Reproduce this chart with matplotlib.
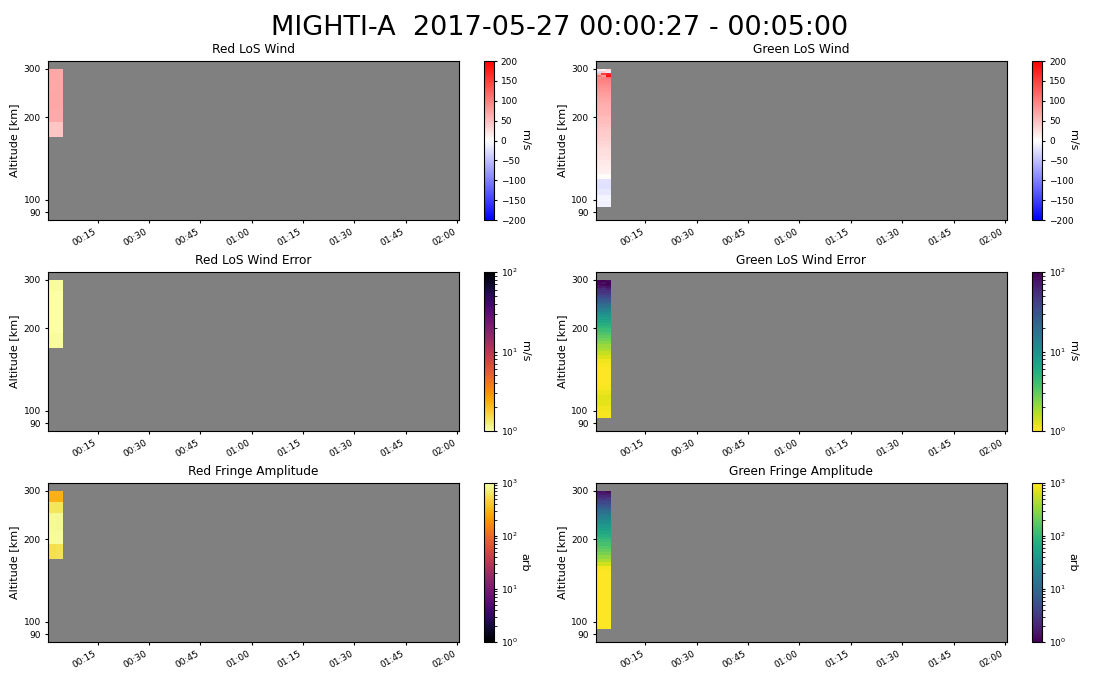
import numpy as np
import matplotlib
matplotlib.use('Agg')
import matplotlib.pyplot as plt
import matplotlib.dates as mdates
from matplotlib.colors import LogNorm
from datetime import datetime, timedelta

# time grid (cell edges) for each channel
t_start = datetime(2017, 5, 27, 0, 0, 27)
t_stop = datetime(2017, 5, 27, 0, 5, 0)
red_time_edges = [t_start, datetime(2017, 5, 27, 0, 2, 44), t_stop]
green_time_edges = [t_start, datetime(2017, 5, 27, 0, 1, 58),
                    datetime(2017, 5, 27, 0, 3, 29), t_stop]

# altitude grid (cell edges) [km]
red_alt_edges = [170, 192, 215, 248, 272, 300]
green_alt_edges = [94.5, 99.5, 104.5, 109.5, 114.5, 119.5, 124.5, 129.5, 134.5, 139.5,
                   144.5, 149.5, 154.5, 159.5, 164.5, 169.5, 174.5, 179.5, 184.5, 189.5,
                   194.5, 199.5, 204.5, 209.5, 214.5, 219.5, 224.5, 229.5, 234.5, 239.5,
                   244.5, 249.5, 254.5, 259.5, 264.5, 269.5, 274.5, 279.5, 284.5, 289.5,
                   294.5, 299.5]

# red channel, one list per time column (bottom -> top)
red_wind = [[45, 66, 70, 68, 70],
            [46, 67, 69, 70, 68]]
red_wind_err = [[1.05, 1.0, 1.0, 1.0, 1.05],
                [1.05, 1.0, 1.0, 1.0, 1.05]]
red_amp = [[560, 900, 880, 600, 300],
           [580, 910, 860, 610, 290]]

# green channel profiles (bottom -> top)
green_wind_profile = [-12, -8, -18, -25, -22, 2, 12, 15, 18, 22, 25, 26, 30, 33, 37,
                      40, 42, 45, 48, 50, 53, 56, 58, 60, 62, 64, 66, 69, 72, 76,
                      79, 82, 86, 90, 94, 98, 100, 105, 110, 60, 20]
green_err_profile = [1.05, 1.1, 1.2, 1.25, 1.15, 1.05, 1.0, 1.0, 1.0, 1.0, 1.05, 1.1,
                     1.3, 1.5, 1.8, 2.0, 2.3, 2.7, 3.1, 3.6, 4.2, 4.8, 5.5, 6.5, 7.5,
                     9, 11, 13, 16, 19, 23, 27, 32, 38, 45, 52, 60, 70, 80, 90, 100]
green_amp_profile = [1200, 1200, 1200, 1200, 1200, 1200, 1200, 1200, 1200, 1200, 1200,
                     1200, 900, 600, 430, 320, 250, 200, 160, 130, 110, 90, 75, 62, 52,
                     42, 35, 28, 23, 19, 15, 12, 9, 7, 5.5, 4.5, 3.5, 2.8, 2.2, 1.8, 1.4]

# noisy top five bins, one list per time column
green_wind_top = [[90, 110, 60, -30, 20],
                  [100, 80, 150, 40, 10],
                  [110, 190, 170, -20, 30]]
green_err_top = [[60, 75, 85, 95, 100],
                 [55, 70, 90, 80, 100],
                 [65, 80, 95, 100, 90]]
green_amp_top = [[3.5, 2.8, 2.0, 1.8, 1.3],
                 [3.4, 2.6, 2.3, 1.6, 1.4],
                 [3.6, 3.0, 2.1, 1.7, 1.2]]


def green_grid(profile, top):
    cols = []
    for t in top:
        cols.append(list(profile[:-len(t)]) + list(t))
    return np.array(cols).T


def red_grid(cols):
    return np.array(cols).T


panels = [
    ('Red LoS Wind', red_time_edges, red_alt_edges, red_grid(red_wind), 'bwr', None, 'm/s'),
    ('Green LoS Wind', green_time_edges, green_alt_edges,
     green_grid(green_wind_profile, green_wind_top), 'bwr', None, 'm/s'),
    ('Red LoS Wind Error', red_time_edges, red_alt_edges, red_grid(red_wind_err),
     'inferno_r', LogNorm(1, 100), 'm/s'),
    ('Green LoS Wind Error', green_time_edges, green_alt_edges,
     green_grid(green_err_profile, green_err_top), 'viridis_r', LogNorm(1, 100), 'm/s'),
    ('Red Fringe Amplitude', red_time_edges, red_alt_edges, red_grid(red_amp),
     'inferno', LogNorm(1, 1000), 'arb'),
    ('Green Fringe Amplitude', green_time_edges, green_alt_edges,
     green_grid(green_amp_profile, green_amp_top), 'viridis', LogNorm(1, 1000), 'arb'),
]

fig = plt.figure(figsize=(11.2, 7), dpi=100)
fig.suptitle('MIGHTI-A  2017-05-27 00:00:27 - 00:05:00', fontsize=19.5, y=0.978)

lefts = [0.0426, 0.5317]
cb_lefts = [0.432, 0.9214]
bottoms = [0.6857, 0.3843, 0.0829]

for i, (title, tedges, aedges, grid, cmap, norm, unit) in enumerate(panels):
    row, col = i // 2, i % 2
    ax = fig.add_axes([lefts[col], bottoms[row], 0.367, 0.227])
    cax = fig.add_axes([cb_lefts[col], bottoms[row], 0.0089, 0.227])
    ax.set_facecolor('gray')
    x = mdates.date2num(tedges)
    if norm is None:
        m = ax.pcolormesh(x, aedges, grid, cmap=cmap, vmin=-200, vmax=200)
    else:
        m = ax.pcolormesh(x, aedges, grid, cmap=cmap, norm=norm)
    ax.set_yscale('log')
    ax.set_ylim(84.5, 320)
    ax.set_yticks([90, 100, 200, 300])
    ax.set_yticklabels(['90', '100', '200', '300'])
    ax.yaxis.set_minor_locator(matplotlib.ticker.NullLocator())
    ax.set_xlim(mdates.date2num(t_start), mdates.date2num(t_start + timedelta(hours=2)))
    ax.xaxis.set_major_locator(mdates.MinuteLocator(byminute=[0, 15, 30, 45]))
    ax.xaxis.set_major_formatter(mdates.DateFormatter('%H:%M'))
    ax.tick_params(labelsize=6.5, length=2.5, pad=2.5)
    for lab in ax.get_xticklabels():
        lab.set_rotation(30)
        lab.set_ha('right')
    ax.set_ylabel('Altitude [km]', fontsize=8, labelpad=3)
    ax.set_title(title, fontsize=8.7)
    cb = fig.colorbar(m, cax=cax)
    if norm is None:
        cb.set_ticks([-200, -150, -100, -50, 0, 50, 100, 150, 200])
    cb.ax.tick_params(labelsize=6.5, length=2.5, pad=2.5)
    # unit label placed clear of the tick labels
    cb.ax.text(4.1, 0.5, unit, rotation=270, ha='center', va='center',
               fontsize=8, transform=cb.ax.transAxes)

plt.savefig('out.png')
